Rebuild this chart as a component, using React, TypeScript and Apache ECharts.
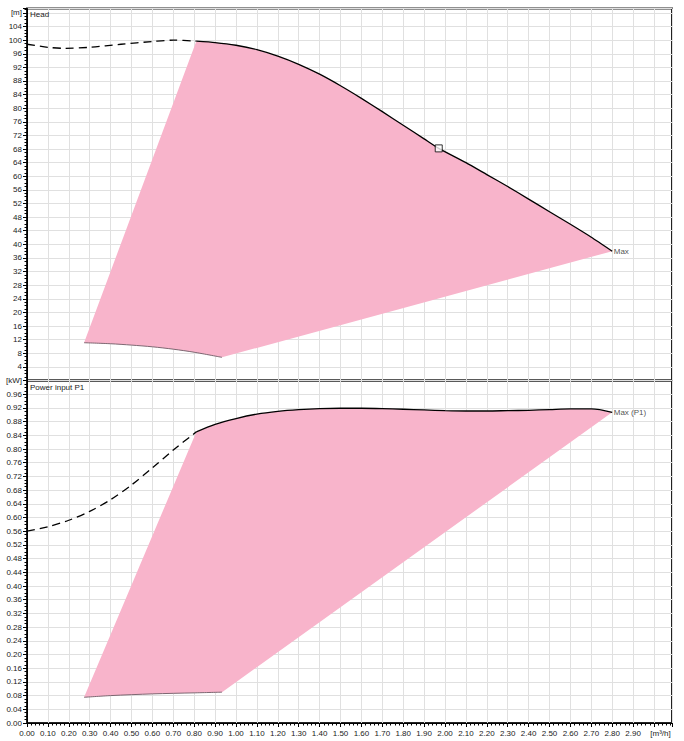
import React, { useEffect, useRef } from "react";
import * as echarts from "echarts";

// Flow (m³/h) vs Head (m)
const headDashed: number[][] = [
  [0, 98.8], [0.1, 97.9], [0.18, 97.6], [0.3, 97.9], [0.45, 98.8], [0.6, 99.6], [0.7, 100.0], [0.81, 99.7],
];
const headCurve: number[][] = [
  [0.81, 99.7], [0.9, 99.3], [1.0, 98.5], [1.1, 97.2], [1.2, 95.3], [1.3, 92.9], [1.4, 90.0], [1.5, 86.6],
  [1.6, 82.9], [1.7, 79.0], [1.8, 75.0], [1.9, 71.0], [1.97, 68.2], [2.1, 64.0], [2.2, 60.5], [2.3, 57.0],
  [2.4, 53.3], [2.5, 49.6], [2.6, 45.9], [2.7, 42.1], [2.8, 38.0],
];
const headBottom: number[][] = [
  [0.933, 6.8], [0.8, 8.3], [0.7, 9.2], [0.6, 9.9], [0.5, 10.4], [0.4, 10.8], [0.273, 11.1],
];
const headDutyPoint: number[][] = [[1.97, 68.2]];
const headMaxPoint: number[][] = [[2.8, 38.0]];

// Flow (m³/h) vs Power input P1 (kW)
const powerDashed: number[][] = [
  [0, 0.56], [0.1, 0.573], [0.2, 0.592], [0.3, 0.618], [0.4, 0.652], [0.5, 0.695], [0.6, 0.745], [0.7, 0.797], [0.81, 0.85],
];
const powerCurve: number[][] = [
  [0.81, 0.85], [0.9, 0.872], [1.0, 0.889], [1.1, 0.902], [1.2, 0.91], [1.3, 0.915], [1.4, 0.918], [1.5, 0.919],
  [1.6, 0.919], [1.7, 0.918], [1.8, 0.916], [1.9, 0.914], [2.0, 0.912], [2.1, 0.911], [2.2, 0.911], [2.3, 0.912],
  [2.4, 0.913], [2.5, 0.915], [2.6, 0.917], [2.7, 0.917], [2.8, 0.907],
];
const powerBottom: number[][] = [
  [0.933, 0.09], [0.8, 0.088], [0.6, 0.085], [0.4, 0.08], [0.273, 0.075],
];
const powerMaxPoint: number[][] = [[2.8, 0.907]];

const X_MAX = 3.086;
const HEAD_MAX = 109.3;
const POWER_MAX = 1.0;
const X_UNIT = "[m³/h]";
const HEAD_UNIT = "[m]";
const POWER_UNIT = "[kW]";
const HEAD_TITLE = "Head";
const POWER_TITLE = "Power input P1";
const HEAD_MAX_LABEL = "Max";
const POWER_MAX_LABEL = "Max (P1)";

const PINK = "#f8b4cb";
const FONT = "Liberation Sans, Arial, sans-serif";
const TXT = "#222";

function polygonSeries(top: number[][], bottom: number[][], axisIndex: number) {
  const pts = [...top, ...bottom];
  return {
    type: "custom",
    xAxisIndex: axisIndex,
    yAxisIndex: axisIndex,
    silent: true,
    z: 1,
    data: [[0, 0]],
    renderItem: (params: any, api: any) => {
      if (params.dataIndex !== 0) return null;
      return {
        type: "polygon",
        shape: { points: pts.map((p) => api.coord(p)) },
        style: { fill: PINK, stroke: "none" },
      };
    },
  };
}

export default function App() {
  const ref = useRef<HTMLDivElement>(null);
  useEffect(() => {
    if (!ref.current) return;
    const chart = echarts.init(ref.current, undefined, { renderer: "svg" });
    const axisLine = { show: true, lineStyle: { color: "#000", width: 1 } };
    const splitLine = { show: true, lineStyle: { color: "#e0e0e0", width: 1 } };
    const xAxisBase = {
      type: "value",
      min: 0,
      max: X_MAX,
      interval: 0.1,
      splitLine,
      axisLine,
    };
    const option: any = {
      animation: false,
      textStyle: { fontFamily: FONT },
      grid: [
        { left: 27, top: 8.5, width: 645, height: 372, show: true, borderColor: "#222", borderWidth: 2, backgroundColor: "transparent" },
        { left: 27, top: 380.5, width: 645, height: 342.5, show: true, borderColor: "#222", borderWidth: 2, backgroundColor: "transparent" },
      ],
      xAxis: [
        { ...xAxisBase, gridIndex: 0, axisLabel: { show: false }, axisTick: { show: false }, axisLine: { show: false } },
        {
          ...xAxisBase,
          gridIndex: 1,
          axisTick: { show: true, length: 4, lineStyle: { color: "#000" } },
          minorTick: { show: true, splitNumber: 5, length: 2.5, lineStyle: { color: "#000" } },
          axisLabel: {
            show: true,
            margin: 6,
            fontSize: 8,
            color: TXT,
            fontFamily: FONT,
            showMaxLabel: false,
            formatter: (v: number) => {
              if (Math.abs(v - 3) < 1e-6) return "{u|" + X_UNIT + "}";
              if (v > 3.01) return "";
              return v.toFixed(2);
            },
            rich: { u: { fontSize: 8, color: TXT, fontFamily: FONT, padding: [0, 0, 0, 13] } },
          },
        },
      ],
      yAxis: [
        {
          type: "value",
          gridIndex: 0,
          min: 0,
          max: HEAD_MAX,
          interval: 4,
          splitLine,
          axisLine,
          axisTick: { show: true, length: 4, lineStyle: { color: "#000" } },
          minorTick: { show: true, splitNumber: 4, length: 2.5, lineStyle: { color: "#000" } },
          axisLabel: {
            margin: 5,
            fontSize: 8,
            color: TXT,
            fontFamily: FONT,
            showMinLabel: false,
            showMaxLabel: false,
            formatter: (v: number) => {
              if (Math.abs(v - 108) < 1e-6) return HEAD_UNIT;
              if (v < 1e-6 || Math.abs(v / 4 - Math.round(v / 4)) > 1e-6) return "";
              return String(Math.round(v));
            },
          },
        },
        {
          type: "value",
          gridIndex: 1,
          min: 0,
          max: POWER_MAX,
          interval: 0.04,
          splitLine,
          axisLine,
          axisTick: { show: true, length: 4, lineStyle: { color: "#000" } },
          minorTick: { show: true, splitNumber: 4, length: 2.5, lineStyle: { color: "#000" } },
          axisLabel: {
            margin: 5,
            fontSize: 8,
            color: TXT,
            fontFamily: FONT,
            formatter: (v: number) => {
              if (Math.abs(v - 1) < 1e-6) return POWER_UNIT;
              return v.toFixed(2);
            },
          },
        },
      ],
      series: [
        polygonSeries(headCurve, headBottom, 0),
        {
          type: "line", xAxisIndex: 0, yAxisIndex: 0, data: headDashed, symbol: "none", smooth: 0.3, z: 3,
          lineStyle: { color: "#000", width: 1.3, type: [8, 5] },
        },
        {
          type: "line", xAxisIndex: 0, yAxisIndex: 0, data: headCurve, symbol: "none", smooth: 0.2, z: 3,
          lineStyle: { color: "#000", width: 1.3 },
        },
        {
          type: "line", xAxisIndex: 0, yAxisIndex: 0, data: headBottom, symbol: "none", smooth: 0.3, z: 3,
          lineStyle: { color: "#6e5a64", width: 0.9 },
        },
        {
          type: "scatter", xAxisIndex: 0, yAxisIndex: 0, data: headDutyPoint, symbol: "rect", symbolSize: 7, z: 5,
          itemStyle: { color: "#fff", borderColor: "#000", borderWidth: 1 },
        },
        {
          type: "scatter", xAxisIndex: 0, yAxisIndex: 0, data: headMaxPoint, symbolSize: 1, z: 5,
          itemStyle: { color: "rgba(0,0,0,0)" },
          label: { show: true, position: "right", distance: 1, formatter: HEAD_MAX_LABEL, fontSize: 8, color: TXT, fontFamily: FONT },
        },
        polygonSeries(powerCurve, powerBottom, 1),
        {
          type: "line", xAxisIndex: 1, yAxisIndex: 1, data: powerDashed, symbol: "none", smooth: 0.3, z: 3,
          lineStyle: { color: "#000", width: 1.3, type: [8, 5] },
        },
        {
          type: "line", xAxisIndex: 1, yAxisIndex: 1, data: powerCurve, symbol: "none", smooth: 0.3, z: 3,
          lineStyle: { color: "#000", width: 1.3 },
        },
        {
          type: "line", xAxisIndex: 1, yAxisIndex: 1, data: powerBottom, symbol: "none", smooth: 0.3, z: 3,
          lineStyle: { color: "#6e5a64", width: 0.9 },
        },
        {
          type: "scatter", xAxisIndex: 1, yAxisIndex: 1, data: powerMaxPoint, symbolSize: 1, z: 5,
          itemStyle: { color: "rgba(0,0,0,0)" },
          label: { show: true, position: "right", distance: 1, formatter: POWER_MAX_LABEL, fontSize: 8, color: TXT, fontFamily: FONT },
        },
      ],
      graphic: [
        { type: "text", left: 30, top: 10, z: 10, style: { text: HEAD_TITLE, fontSize: 8, fill: TXT, fontFamily: FONT } },
        { type: "text", left: 30, top: 383, z: 10, style: { text: POWER_TITLE, fontSize: 8, fill: TXT, fontFamily: FONT } },
      ],
    };
    chart.setOption(option);
    return () => chart.dispose();
  }, []);
  return (
    <div
      ref={ref}
      style={{ position: "fixed", left: 0, top: 0, width: 684, height: 741, background: "#fff" }}
    />
  );
}
